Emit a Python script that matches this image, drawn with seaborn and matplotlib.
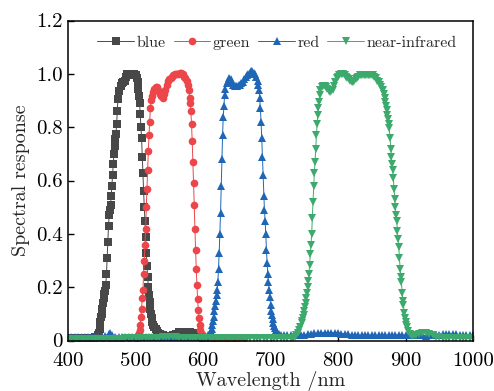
import numpy as np
import pandas as pd
import matplotlib
matplotlib.use("Agg")
import matplotlib.pyplot as plt
import seaborn as sns

# (wavelength nm, spectral response)
blue = [(400, .01), (405, .01), (410, .01), (415, .01), (420, .01), (425, .01), (430, .01), (435, .01), (440, .012),
        (443, .015), (445, .02), (446, .03), (447, .045), (448, .07), (449, .09), (450, .10), (451, .12), (452, .14),
        (453, .16), (454, .175), (455, .185), (456, .21), (457, .25), (458, .31), (459, .37), (460, .43), (461, .47),
        (462, .49), (463, .51), (464, .54), (465, .58), (466, .62), (467, .66), (468, .70), (469, .73), (470, .755),
        (471, .775), (472, .81), (473, .86), (474, .905), (476, .935), (478, .955), (480, .965), (482, .97), (484, .975),
        (486, .99), (488, 1.0), (490, 1.0), (492, 1.0), (494, .995), (496, 1.0), (498, 1.0), (500, .995), (502, .985),
        (503, .97), (504, .945), (505, .915), (506, .89), (507, .85), (508, .80), (509, .76), (510, .69), (511, .63),
        (512, .56), (513, .50), (514, .45), (515, .39), (516, .33), (517, .28), (518, .24), (519, .20), (520, .17),
        (521, .145), (522, .12), (523, .10), (524, .085), (525, .07), (526, .06), (528, .05), (530, .042), (532, .036),
        (534, .03), (536, .026), (538, .022), (540, .02), (545, .016), (550, .016), (555, .02), (560, .026), (565, .031),
        (570, .033), (575, .032), (580, .031), (585, .028), (590, .022), (595, .015), (600, .01), (610, .008),
        (620, .008), (630, .008), (640, .008), (650, .008)]

green = [(400, .008), (410, .008), (420, .008), (430, .008), (440, .008), (450, .008), (460, .008), (470, .008),
         (480, .008), (490, .008), (500, .008), (502, .01), (504, .02), (505, .03), (506, .04), (507, .06), (508, .09),
         (509, .12), (510, .16), (511, .19), (512, .25), (513, .30), (514, .36), (515, .42), (516, .50), (517, .57),
         (518, .64), (519, .71), (520, .77), (521, .82), (522, .87), (523, .90), (524, .915), (526, .93), (528, .945),
         (530, .95), (532, .95), (534, .94), (536, .925), (538, .915), (540, .91), (542, .925), (544, .94), (546, .96),
         (548, .975), (550, .98), (552, .985), (554, .99), (556, .995), (558, 1.0), (560, 1.0), (562, 1.0), (564, 1.0),
         (566, 1.005), (568, 1.005), (570, 1.0), (572, .99), (574, .985), (576, .975), (578, .96), (579, .94),
         (580, .91), (581, .89), (582, .86), (583, .81), (584, .75), (585, .67), (586, .59), (587, .51), (588, .42),
         (589, .34), (590, .27), (591, .21), (592, .155), (593, .115), (594, .085), (595, .06), (596, .04), (598, .025),
         (600, .015), (605, .01), (610, .008), (620, .008), (630, .008), (640, .008), (650, .008), (660, .008)]

red = [(400, .012), (405, .012), (410, .012), (415, .012), (420, .012), (425, .012), (430, .012), (435, .012),
       (440, .012), (445, .012), (450, .014), (455, .018), (460, .025), (462, .028), (465, .02), (470, .013),
       (475, .012), (480, .012), (485, .012), (490, .012), (495, .012), (500, .012), (505, .012), (510, .012),
       (515, .012), (520, .012), (525, .012), (530, .012), (535, .012), (540, .012), (545, .012), (550, .012),
       (555, .012), (560, .012), (565, .012), (570, .012), (575, .012), (580, .012), (585, .012), (590, .012),
       (595, .012), (600, .012), (605, .015), (608, .02), (610, .025), (611, .03), (612, .035), (613, .045),
       (614, .06), (615, .075), (616, .09), (617, .11), (618, .13), (619, .15), (620, .17), (621, .19), (622, .22),
       (623, .27), (624, .33), (625, .40), (626, .48), (627, .58), (628, .68), (629, .77), (630, .84), (631, .88),
       (632, .92), (633, .945), (635, .965), (637, .975), (639, .985), (641, .98), (643, .97), (645, .96), (647, .955),
       (649, .955), (651, .955), (653, .96), (655, .96), (657, .965), (659, .97), (661, .98), (663, .99), (665, .995),
       (667, 1.0), (669, 1.005), (671, 1.01), (673, 1.01), (675, 1.005), (677, 1.0), (679, .99), (681, .975),
       (682, .96), (683, .94), (684, .91), (685, .87), (686, .82), (687, .76), (688, .69), (689, .62), (690, .54),
       (691, .49), (692, .45), (693, .40), (694, .34), (695, .29), (696, .25), (697, .22), (698, .19), (699, .165),
       (700, .135), (701, .11), (702, .095), (703, .08), (704, .065), (705, .055), (706, .048), (708, .038),
       (710, .03), (713, .025), (716, .022), (720, .02), (725, .02), (730, .02), (735, .02), (740, .02), (745, .021),
       (750, .022), (755, .024), (760, .025), (765, .027), (770, .028), (775, .03), (780, .03), (785, .03), (790, .03),
       (795, .029), (800, .028), (805, .026), (810, .025), (815, .024), (820, .022), (825, .021), (830, .02),
       (835, .02), (840, .02), (845, .02), (850, .02), (855, .02), (860, .02), (865, .02), (870, .02), (875, .021),
       (880, .022), (885, .022), (890, .022), (895, .021), (900, .02), (905, .02), (910, .02), (915, .02), (920, .02),
       (925, .019), (930, .018), (935, .019), (940, .02), (945, .021), (950, .022), (955, .024), (960, .025),
       (965, .025), (970, .025), (975, .024), (980, .022), (985, .021), (990, .02), (995, .02), (1000, .02)]

nir = [(400, .006), (405, .006), (410, .006), (415, .006), (420, .006), (425, .006), (430, .006), (435, .006),
       (440, .006), (445, .006), (450, .006), (455, .006), (460, .006), (465, .006), (470, .006), (475, .006),
       (480, .006), (485, .008), (490, .01), (495, .011), (500, .011), (505, .01), (510, .01), (515, .01), (520, .01),
       (525, .01), (530, .01), (535, .011), (540, .012), (545, .012), (550, .012), (555, .012), (560, .012),
       (565, .011), (570, .01), (575, .01), (580, .01), (585, .01), (590, .01), (595, .01), (600, .01), (605, .01),
       (610, .01), (615, .01), (620, .01), (625, .01), (630, .01), (635, .01), (640, .01), (645, .01), (650, .01),
       (655, .01), (660, .01), (665, .01), (670, .01), (675, .01), (680, .01), (685, .01), (690, .01), (695, .01),
       (700, .009), (705, .008), (710, .008), (715, .008), (720, .008), (725, .008), (730, .008), (733, .01),
       (736, .015), (738, .02), (740, .03), (742, .04), (744, .05), (746, .065), (747, .075), (748, .085), (749, .095),
       (750, .11), (751, .125), (752, .14), (753, .16), (754, .18), (755, .20), (756, .225), (757, .25), (758, .285),
       (759, .325), (760, .36), (761, .40), (762, .46), (763, .52), (764, .58), (765, .63), (766, .67), (767, .72),
       (768, .77), (769, .81), (770, .845), (771, .87), (772, .895), (773, .92), (774, .94), (776, .95), (778, .955),
       (780, .955), (782, .95), (784, .945), (786, .935), (788, .93), (790, .935), (792, .94), (794, .955), (796, .97),
       (798, .985), (800, .99), (802, .995), (804, 1.0), (806, 1.0), (808, 1.0), (810, .995), (812, .99), (814, .985),
       (816, .98), (818, .975), (820, .97), (822, .97), (824, .975), (826, .98), (828, .985), (830, .99), (832, .995),
       (834, .995), (836, .995), (838, .995), (840, .995), (842, .995), (844, .995), (846, .995), (848, .995),
       (850, .995), (852, .995), (854, .99), (856, .985), (858, .975), (860, .97), (862, .96), (864, .95), (866, .94),
       (868, .925), (869, .91), (870, .895), (871, .88), (872, .865), (873, .845), (874, .83), (875, .81), (876, .795),
       (877, .76), (878, .72), (879, .69), (880, .66), (881, .64), (882, .61), (883, .57), (884, .53), (885, .50),
       (886, .47), (887, .45), (888, .41), (889, .38), (890, .35), (891, .31), (892, .27), (893, .24), (894, .22),
       (895, .18), (896, .15), (897, .135), (898, .105), (899, .085), (900, .07), (901, .06), (902, .05), (904, .035),
       (906, .025), (909, .018), (912, .02), (915, .022), (920, .025), (925, .028), (930, .028), (935, .025),
       (940, .02), (945, .015), (950, .012), (955, .01), (960, .01), (965, .01), (970, .01), (975, .01), (980, .01),
       (985, .01), (990, .01), (995, .01), (1000, .01)]

band_names = ["blue", "green", "red", "near-infrared"]
band_colors = ["#484848", "#EC464B", "#1F66B7", "#3CAA6D"]
band_markers = ["s", "o", "^", "v"]
x_ticks = [400, 500, 600, 700, 800, 900, 1000]
y_ticks = [0, 0.2, 0.4, 0.6, 0.8, 1.0, 1.2]
y_tick_labels = ["0", "0.2", "0.4", "0.6", "0.8", "1.0", "1.2"]

# long-form table for seaborn
frames = []
for name, pts in zip(band_names, [blue, green, red, nir]):
    d = pd.DataFrame(pts, columns=["wavelength", "response"])
    d["band"] = name
    frames.append(d)
df = pd.concat(frames, ignore_index=True)

sns.set_style("ticks")
plt.rcParams["font.family"] = ["cmr10", "DejaVu Serif"]
plt.rcParams["mathtext.fontset"] = "cm"
plt.rcParams["axes.formatter.use_mathtext"] = True

fig = plt.figure(figsize=(4.94, 3.91), dpi=100)
ax = fig.add_axes([68 / 494, 1 - 340.5 / 391, 405 / 494, 320 / 391])

sns.lineplot(data=df, x="wavelength", y="response", hue="band", style="band",
             hue_order=band_names, style_order=band_names, palette=band_colors,
             markers=band_markers, dashes=False, estimator=None, sort=False,
             markersize=5.5, markeredgewidth=0, linewidth=0.7, ax=ax)

ax.set_xlim(400, 1000)
ax.set_ylim(0, 1.2)
ax.set_xticks(x_ticks)
ax.set_xticklabels([str(t) for t in x_ticks])
ax.set_yticks(y_ticks)
ax.set_yticklabels(y_tick_labels)
ax.tick_params(direction="in", length=4, width=1, labelsize=15, colors="black")
ax.tick_params(axis="x", pad=8)
ax.tick_params(axis="y", pad=4)
for s in ax.spines.values():
    s.set_visible(True)
    s.set_linewidth(1.1)
    s.set_color("black")

ax.set_xlabel("Wavelength /nm", fontsize=14.5, labelpad=1)
ax.set_ylabel("Spectral response", fontsize=14.5, labelpad=4)

h, l = ax.get_legend_handles_labels()
ax.legend(h, l, loc="center", bbox_to_anchor=(0.516, 0.93), ncol=4, frameon=False,
          fontsize=11.5, handlelength=2.3, handletextpad=0.15, columnspacing=0.5,
          borderaxespad=0)

fig.savefig("out.png", dpi=100)
